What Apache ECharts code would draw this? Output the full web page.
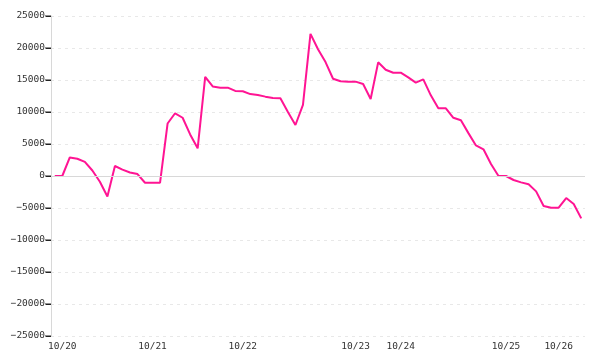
<!DOCTYPE html>
<html>
<head>
<meta charset="utf-8">
<script src="https://cdn.jsdelivr.net/npm/echarts@6/dist/echarts.min.js"></script>
<style>html,body{margin:0;padding:0;background:#fff}#c{width:600px;height:360px}</style>
</head>
<body>
<div id="c"></div>
<script>
// Day labels and the index of the first point of each day
const dayNames = ['10/20', '10/21', '10/22', '10/23', '10/24', '10/25', '10/26'];
const dayStarts = [1, 13, 25, 40, 46, 60, 67];

// Series values (71 points)
const values = [
  0, 0, 2900, 2700, 2200, 860, -900, -3200, 1560, 1000,
  550, 300, -1050, -1050, -1050, 8200, 9800, 9100, 6500, 4330,
  15500, 14000, 13800, 13800, 13300, 13250, 12800, 12650, 12400, 12200,
  12140, 10000, 7970, 11100, 22200, 19800, 17800, 15200, 14800, 14740,
  14740, 14375, 12030, 17760, 16600, 16140, 16140, 15400, 14600, 15100,
  12600, 10570, 10570, 9100, 8700, 6700, 4770, 4170, 1870, 0,
  0, -625, -1000, -1300, -2400, -4690, -4950, -4950, -3440, -4375,
  -6620
];

// Y tick settings
const yMin = -25000, yMax = 25000, yStep = 5000;

// Build categories: each point tagged with its day
const categories = values.map((v, i) => {
  let d = '10/19';
  for (let k = 0; k < dayStarts.length; k++) if (i >= dayStarts[k]) d = dayNames[k];
  return d + '#' + i;
});

const font = "'DejaVu Sans Mono', monospace";
const chart = echarts.init(document.getElementById('c'), null, {renderer: 'canvas'});
chart.setOption({
  animation: false,
  grid: {left: 51, right: 15, top: 16, bottom: 24, containLabel: false},
  xAxis: {
    type: 'category',
    data: categories,
    boundaryGap: true,
    axisLine: {show: false, onZero: false},
    axisTick: {show: false},
    splitLine: {show: false},
    axisLabel: {
      interval: (i) => dayStarts.indexOf(i) >= 0,
      formatter: (v) => v.split('#')[0],
      color: '#333', fontFamily: font, fontSize: 9.5, margin: 6
    }
  },
  yAxis: {
    type: 'value',
    position: 'left',
    min: yMin, max: yMax, interval: yStep,
    axisLine: {show: true, onZero: false, lineStyle: {color: '#d8d8d8', width: 1}},
    axisTick: {show: true, inside: false, length: 5, lineStyle: {color: '#222', width: 1}},
    axisLabel: {
      color: '#333', fontFamily: font, fontSize: 9.5, margin: 0,
      formatter: (v) => String(v).replace('-', '\u2212') + '{t|}',
      rich: {t: {width: 6, height: 1, backgroundColor: '#222', verticalAlign: 'middle'}}
    },
    splitLine: {show: true, lineStyle: {color: '#e8e8e8', type: [3, 4], width: 1}}
  },
  series: [{
    type: 'line',
    data: values,
    showSymbol: false,
    symbol: 'none',
    smooth: false,
    lineStyle: {color: '#ff1493', width: 2},
    itemStyle: {color: '#ff1493'},
    markLine: {
      silent: true,
      symbol: 'none',
      label: {show: false},
      lineStyle: {color: '#d8d8d8', type: 'solid', width: 1},
      data: [{yAxis: 0}]
    },
    z: 3
  }]
});
</script>
</body>
</html>
